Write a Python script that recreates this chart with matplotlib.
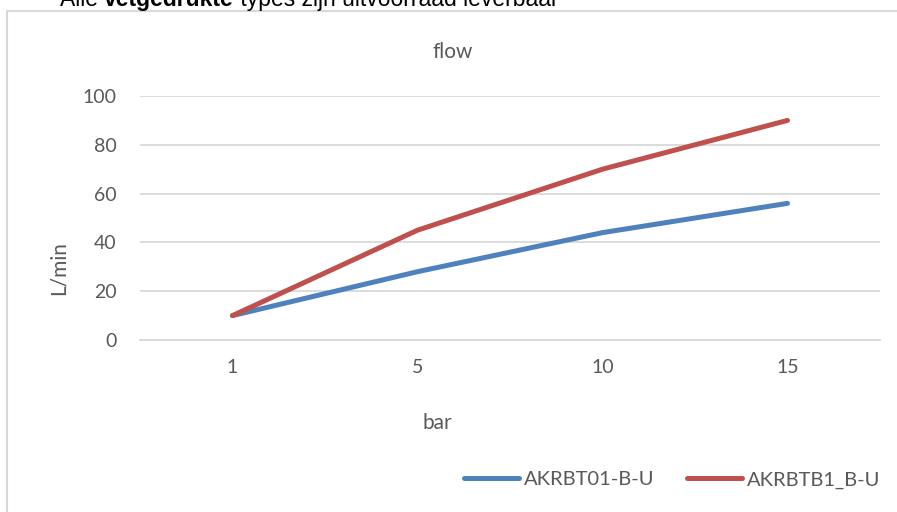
import matplotlib
matplotlib.use('Agg')
from matplotlib import pyplot
from matplotlib.patches import Rectangle

# chart data
pressure = ['1', '5', '10', '15']
flow_bt01 = [10, 28, 44, 56]
flow_btb1 = [10, 45, 70, 90]
series_names = ['AKRBT01-B-U', 'AKRBTB1_B-U']

BLUE = '#4F81BD'
RED = '#C0504D'
GREY_TXT = '#595959'
GRID = '#D9D9D9'

W, H = 897, 512


def _fx(px):
    return px / W


def _fy(py):
    return 1 - py / H


def main():
    '''Draw the flow chart.'''
    pyplot.rcParams['font.family'] = ['Lato', 'DejaVu Sans']
    fig = pyplot.figure(figsize=(W / 100, H / 100), dpi=100)

    # chart frame (extends beyond right/bottom edge)
    fig.add_artist(Rectangle((_fx(7), -0.1), 1.2, _fy(11) + 0.1,
                             transform=fig.transFigure, fill=False,
                             edgecolor='#D9D9D9', linewidth=1.5))

    ax = fig.add_axes([_fx(140), _fy(340), _fx(880) - _fx(140),
                       _fy(96) - _fy(340)])
    xs = range(len(pressure))
    ax.plot(xs, flow_bt01, color=BLUE, lw=3.6, solid_capstyle='round',
            label=series_names[0], zorder=3)
    ax.plot(xs, flow_btb1, color=RED, lw=3.6, solid_capstyle='round',
            label=series_names[1], zorder=3)

    ax.set_xlim(-0.5, len(pressure) - 0.5)
    ax.set_ylim(0, 100)
    ax.set_yticks(range(0, 101, 20))
    ax.set_xticks(list(xs))
    ax.set_xticklabels(pressure)
    ax.grid(axis='y', color=GRID, linewidth=1.3)
    ax.set_axisbelow(True)
    for side in ['top', 'right', 'left']:
        ax.spines[side].set_visible(False)
    ax.spines['bottom'].set_color(GRID)
    ax.spines['bottom'].set_linewidth(1.3)
    ax.tick_params(length=0, labelsize=14, labelcolor=GREY_TXT)
    ax.tick_params(axis='y', pad=17)
    ax.tick_params(axis='x', pad=14)

    fig.text(_fx(453), _fy(52), 'flow', ha='center', va='center',
             fontsize=15, color=GREY_TXT)
    fig.text(_fx(437), _fy(423), 'bar', ha='center', va='center',
             fontsize=15, color=GREY_TXT)
    fig.text(_fx(59), _fy(268), 'L/min', ha='center', va='center',
             rotation=90, fontsize=15, color=GREY_TXT)

    fig.legend(loc='center', bbox_to_anchor=(_fx(672), _fy(480)), ncol=2,
               frameon=False, fontsize=14.5, handlelength=2.75,
               handletextpad=0.25, columnspacing=1.6,
               labelcolor=GREY_TXT)

    # header text above the chart, partly cut off
    pieces = [('Alle ', 'normal'), ('vetgedrukte', 'bold'),
              (' types zijn uitvoorraad leverbaar', 'normal')]
    renderer = fig.canvas.get_renderer()
    x = _fx(60)
    for txt, weight in pieces:
        t = fig.text(x, _fy(6), txt, ha='left', va='baseline',
                     fontsize=16.5, fontweight=weight,
                     family='Liberation Sans', color='black')
        x += t.get_window_extent(renderer).width / W

    fig.savefig('out.png', dpi=100)


if __name__ == '__main__':
    main()
